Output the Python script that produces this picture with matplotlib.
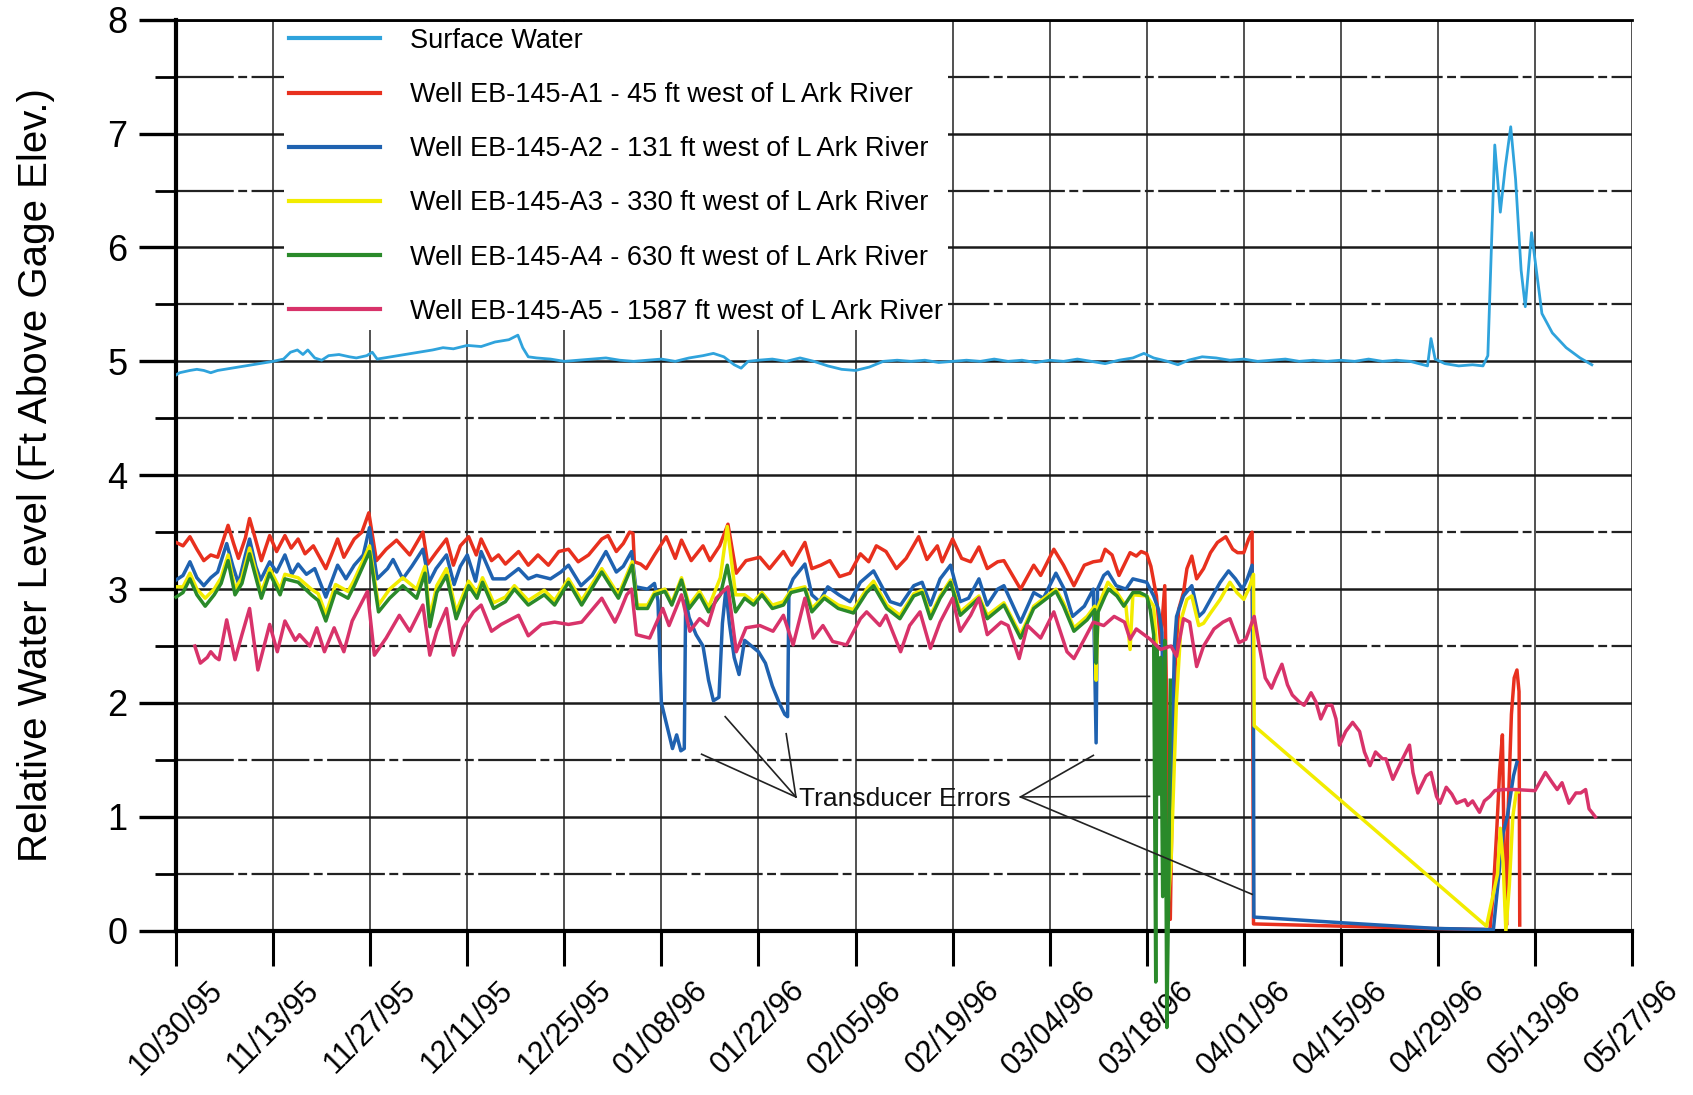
import numpy as np
import pandas as pd
import matplotlib
matplotlib.use("Agg")
import matplotlib.pyplot as plt
import matplotlib.dates as mdates
from matplotlib.ticker import MultipleLocator

plt.rcParams['font.family'] = ['Liberation Sans', 'DejaVu Sans']

START = "1995-10-30"
END = "1996-05-27"

# ---- data: (days after 10/30/95, value) ----
sw_days = [0, 0.5, 2, 3, 4, 5, 6, 8, 10, 12, 14, 15.5, 16.5, 17.5, 18.3, 19, 20, 21, 22, 23.5, 25, 26,
           27.5, 28.3, 29, 31, 33, 35, 37, 38.5, 40, 42, 44, 46, 48, 49.3, 50, 50.8, 52, 54, 56, 58, 60,
           62, 64, 66, 68, 70, 72, 74, 76, 77.5, 79, 80.5, 81.5, 82.5, 84, 86, 88, 90, 92, 94, 96, 98,
           100, 102, 104, 106, 108, 110, 112, 114, 116, 118, 120, 122, 124, 126, 128, 130, 132, 134,
           136, 138, 139.6, 141, 143, 144.5, 146, 148, 150, 152, 154, 156, 158, 160, 162, 164, 166,
           168, 170, 172, 174, 176, 178, 180.5, 181, 181.6, 183, 185, 187, 188.5, 189.2, 190.2, 190.6,
           191, 191.7, 192.5, 193.2, 194, 194.6, 195.5, 196.2, 197, 198.5, 200.5, 202.5, 204.2]
sw_vals = [4.88, 4.90, 4.92, 4.93, 4.92, 4.90, 4.92, 4.94, 4.96, 4.98, 5.00, 5.02, 5.08, 5.10, 5.06,
           5.10, 5.03, 5.01, 5.05, 5.06, 5.04, 5.03, 5.05, 5.08, 5.02, 5.04, 5.06, 5.08, 5.10, 5.12,
           5.11, 5.14, 5.13, 5.17, 5.19, 5.23, 5.12, 5.04, 5.03, 5.02, 5.00, 5.01, 5.02, 5.03, 5.01,
           5.00, 5.01, 5.02, 5.00, 5.03, 5.05, 5.07, 5.04, 4.97, 4.94, 5.00, 5.01, 5.02, 5.00, 5.03,
           5.00, 4.96, 4.93, 4.92, 4.95, 5.00, 5.01, 5.00, 5.01, 4.99, 5.00, 5.01, 5.00, 5.02, 5.00,
           5.01, 4.99, 5.01, 5.00, 5.02, 5.00, 4.98, 5.01, 5.03, 5.07, 5.03, 5.00, 4.97, 5.01, 5.04,
           5.03, 5.01, 5.02, 5.00, 5.01, 5.02, 5.00, 5.01, 5.00, 5.01, 5.00, 5.02, 5.00, 5.01, 5.00,
           4.96, 5.20, 5.02, 4.98, 4.96, 4.97, 4.96, 5.05, 6.90, 6.60, 6.31, 6.70, 7.06, 6.60, 5.80,
           5.48, 6.13, 5.80, 5.42, 5.25, 5.12, 5.03, 4.97]

a1_days = [0, 1, 2, 3, 4, 5, 6, 7.5, 8.3, 9, 10, 10.6, 11.4, 12.3, 13.5, 14.5, 15.7, 16.6, 17.6, 18.6,
           19.8, 21.6, 22.4, 23.3, 24.2, 25.7, 26.8, 27.8, 28.9, 30.3, 31.8, 33.7, 35.6, 36.3, 37.5, 39,
           40, 41, 42.2, 43.3, 44, 45.5, 46.5, 47.5, 49.4, 50.8, 52.2, 53.7, 55.2, 56.6, 58, 59.5, 61.4,
           62.3, 63.5, 64.5, 65.4, 65.9, 66.1, 67, 67.8, 69, 70.7, 72, 72.9, 74.3, 76, 77, 78.4, 79.6,
           80.8, 82.2, 84.2, 85.6, 87.6, 88.8, 90.7, 91.7, 93, 94.3, 95.7, 97.2, 98.7, 99.9, 101, 102.4,
           103.9, 105.3, 107.1, 108.3, 109.8, 110.5, 112, 113.3, 114.6, 115.8, 117, 118.5, 119.4, 121.8,
           123.7, 124.7, 126.6, 128, 129.5, 131, 132.3, 133.4, 134, 135, 136, 137.6, 138.5, 139.2, 140,
           140.6, 141.4, 142.0, 142.6, 143.0, 143.4, 143.7, 144.1, 144.6, 145.3, 145.8, 146.5, 147.2,
           148.2, 149.2, 150.2, 151.4, 152.4, 153.1, 154, 154.7, 155.2, 155.4, 168, 181, 189.5, 190.0,
           190.5, 190.9, 191.3, 191.5, 191.7, 191.9, 192.1, 192.6, 193.0, 193.4, 193.7, 193.8]
a1_vals = [3.41, 3.38, 3.46, 3.35, 3.25, 3.30, 3.28, 3.56, 3.40, 3.27, 3.45, 3.62, 3.45, 3.25, 3.47,
           3.33, 3.47, 3.36, 3.44, 3.31, 3.38, 3.18, 3.30, 3.44, 3.28, 3.44, 3.50, 3.67, 3.25, 3.35,
           3.43, 3.30, 3.50, 3.22, 3.32, 3.44, 3.21, 3.38, 3.46, 3.30, 3.44, 3.25, 3.30, 3.22, 3.33,
           3.21, 3.30, 3.21, 3.33, 3.35, 3.24, 3.30, 3.44, 3.47, 3.33, 3.40, 3.50, 3.49, 3.24, 3.22,
           3.18, 3.30, 3.46, 3.27, 3.43, 3.25, 3.38, 3.25, 3.38, 3.57, 3.14, 3.25, 3.28, 3.18, 3.33,
           3.21, 3.41, 3.18, 3.21, 3.25, 3.11, 3.14, 3.31, 3.24, 3.38, 3.33, 3.18, 3.27, 3.46, 3.26,
           3.38, 3.24, 3.44, 3.27, 3.24, 3.37, 3.18, 3.24, 3.25, 3.00, 3.21, 3.12, 3.35, 3.21, 3.03,
           3.21, 3.24, 3.25, 3.35, 3.30, 3.12, 3.32, 3.29, 3.33, 3.31, 3.20, 2.94, 2.53, 3.03, 1.50,
           0.10, 1.30, 2.32, 2.82, 2.97, 3.18, 3.29, 3.09, 3.18, 3.32, 3.41, 3.46, 3.35, 3.32, 3.32,
           3.44, 3.50, 0.06, 0.04, 0.02, 0.01, 0.35, 0.90, 1.40, 1.72, 0.90, 0.30, 0.05, 1.00, 1.90,
           2.22, 2.29, 2.10, 0.05]

a2_days = [0, 1, 2, 3, 4, 5, 6, 7.3, 8.2, 9, 10, 10.6, 11.5, 12.2, 13.5, 14.5, 15.7, 16.7, 17.6, 18.8,
           20, 21.6, 23.3, 24.5, 25.7, 27.0, 27.9, 29, 30.5, 31.3, 32.7, 34, 35.6, 36.5, 37.5, 39, 40.1,
           41, 42, 43.2, 44, 45.7, 47.5, 49.4, 50.8, 52, 54, 55.5, 56.6, 58.4, 60, 62, 63.5, 64.5, 65.7,
           66.3, 68, 69, 69.5, 70, 70.8, 71.6, 72.2, 72.8, 73.3, 73.5, 74, 75, 76, 76.8, 77.5, 78.3,
           78.8, 79.3, 79.8, 80.5, 81.2, 82, 83, 84, 85, 86, 87, 87.8, 88.2, 88.4, 89, 90.7, 91.7, 92.8,
           94, 95.6, 97.2, 98.7, 100.6, 102, 103, 104.5, 106.4, 107.6, 108.8, 110.2, 111.7, 113.1,
           114.3, 115.8, 117, 118.5, 119.4, 121.8, 123.7, 125.1, 126.9, 128.1, 129.3, 131, 132.3,
           132.7, 132.9, 133.8, 134.4, 135.6, 137, 138, 140, 141, 141.7, 142.2, 142.6, 143.0, 143.5,
           144.0, 144.3, 145.3, 146.5, 147.5, 148.2, 149.2, 150.6, 151.8, 152.8, 153.8, 154.5, 155.2,
           155.4, 155.45, 168.2, 181.8, 190, 190.7, 191.4, 192.0, 192.9, 193.4]
a2_vals = [3.08, 3.12, 3.24, 3.10, 3.03, 3.10, 3.15, 3.40, 3.20, 3.05, 3.30, 3.44, 3.20, 3.08, 3.24,
           3.15, 3.30, 3.13, 3.22, 3.13, 3.18, 2.93, 3.21, 3.09, 3.21, 3.30, 3.54, 3.09, 3.18, 3.26,
           3.09, 3.20, 3.35, 3.06, 3.18, 3.30, 3.04, 3.20, 3.30, 3.07, 3.33, 3.09, 3.09, 3.18, 3.09,
           3.12, 3.09, 3.15, 3.21, 3.03, 3.12, 3.33, 3.15, 3.20, 3.33, 3.02, 3.00, 3.05, 2.90, 2.00,
           1.80, 1.60, 1.72, 1.58, 1.60, 2.90, 2.75, 2.60, 2.50, 2.20, 2.02, 2.05, 2.70, 3.00, 2.70,
           2.40, 2.25, 2.55, 2.50, 2.45, 2.35, 2.15, 2.00, 1.90, 1.88, 3.00, 3.09, 3.22, 2.95, 2.89,
           3.02, 2.95, 2.89, 3.06, 3.16, 3.00, 2.89, 2.86, 3.03, 3.06, 2.86, 3.09, 3.21, 2.89, 2.92,
           3.09, 2.86, 3.00, 3.03, 2.71, 2.97, 2.92, 3.14, 3.00, 2.76, 2.85, 3.00, 1.65, 3.00, 3.12,
           3.15, 3.03, 3.00, 3.09, 3.06, 2.94, 2.82, 2.62, 1.00, 0.15, 1.20, 2.50, 2.76, 2.94, 3.03,
           2.76, 2.80, 2.91, 3.06, 3.16, 3.09, 3.00, 3.09, 3.21, 1.80, 0.12, 0.07, 0.02, 0.01, 0.44,
           0.86, 1.00, 1.36, 1.48]

a3_days = [0, 1, 2, 3, 4.2, 5.5, 6.5, 7.5, 8.5, 9.5, 10.6, 12.3, 13.5, 15, 15.7, 17.6, 19.5, 20.5, 21.6,
           23, 24.8, 25.7, 27.9, 29.2, 30.8, 32.7, 34.7, 35.9, 36.6, 37.6, 39, 40.4, 42.2, 43.4, 44.2,
           45.8, 47.5, 48.8, 50.8, 53.1, 54.6, 56.6, 58.5, 61.4, 63.8, 65.8, 66.5, 68, 69, 70.5, 71.5,
           72.9, 74, 75.5, 76.8, 78.5, 79.5, 80.2, 80.7, 82, 83.3, 84.5, 86, 87.6, 88.7, 90.7, 91.7,
           93.5, 95.5, 97.7, 99.6, 100.6, 102.5, 104.4, 106.4, 107.6, 108.8, 110.2, 111.7, 113.1,
           115.8, 117, 119.4, 121.8, 123.7, 126.9, 128, 129.5, 131.4, 132.5, 132.7, 133.0, 134.4,
           135.7, 137, 137.6, 138, 140, 141, 141.4, 142.0, 142.6, 143.1, 143.5, 144.3, 145, 145.8,
           146.5, 147.5, 148.2, 149.2, 150.6, 152, 153, 154, 154.7, 155.4, 155.5, 189.0, 190.6, 191.0,
           191.4, 191.8, 192.3, 192.8, 193.3, 193.6]
a3_vals = [3.02, 3.02, 3.14, 3.00, 2.92, 3.00, 3.10, 3.30, 3.00, 3.10, 3.36, 2.97, 3.18, 3.00, 3.13,
           3.10, 3.00, 2.96, 2.78, 3.04, 2.98, 3.08, 3.38, 2.86, 3.00, 3.10, 3.00, 3.20, 2.75, 3.03,
           3.18, 2.80, 3.07, 2.97, 3.10, 2.88, 2.93, 3.03, 2.90, 2.99, 2.90, 3.09, 2.90, 3.18, 2.95,
           3.24, 2.86, 2.86, 2.97, 3.00, 2.88, 3.10, 2.86, 2.98, 2.84, 3.10, 3.55, 3.20, 2.95, 2.95,
           2.89, 2.97, 2.86, 2.89, 2.99, 3.02, 2.83, 2.94, 2.86, 2.82, 3.00, 3.07, 2.86, 2.77, 2.96,
           2.99, 2.77, 2.94, 3.08, 2.80, 2.94, 2.77, 2.88, 2.60, 2.85, 3.00, 2.88, 2.66, 2.76, 2.85,
           2.20, 2.85, 3.06, 2.97, 2.85, 2.47, 2.95, 2.94, 2.85, 2.50, 1.50, 0.80, 0.24, 0.60, 2.03,
           2.74, 2.91, 2.94, 2.68, 2.70, 2.79, 2.91, 3.06, 2.97, 2.91, 3.00, 3.13, 1.80, 0.04, 0.50,
           0.90, 0.60, 0.00, 0.40, 1.00, 1.22, 1.22]

a4_days = [0, 1, 2, 3, 4.2, 5.5, 6.5, 7.5, 8.5, 9.5, 10.6, 12.3, 13.5, 15, 15.7, 17.6, 19.5, 20.5, 21.6,
           23, 24.8, 25.7, 27.9, 29.2, 30.8, 32.7, 34.7, 35.9, 36.6, 37.6, 39, 40.4, 42.2, 43.4, 44.2,
           45.8, 47.5, 48.8, 50.8, 53.1, 54.6, 56.6, 58.5, 61.4, 63.8, 65.8, 66.5, 68, 69, 70.5, 71.5,
           72.9, 74, 75.5, 76.8, 78.5, 79.5, 80.7, 82, 83.3, 84.5, 86, 87.6, 88.7, 90.7, 91.7, 93.5,
           95.5, 97.7, 99.6, 100.6, 102.5, 104.4, 106.4, 107.6, 108.8, 110.2, 111.7, 113.1, 115.8,
           117, 119.4, 121.8, 123.7, 126.9, 128, 129.5, 131.4, 132.5, 132.7, 133.0, 134, 134.5, 135.7,
           136.7, 138, 139, 140, 140.5, 141.0, 141.3, 141.5, 141.8, 142.0, 142.3, 142.6, 142.9, 143.2,
           143.4]
a4_vals = [2.93, 2.97, 3.09, 2.95, 2.85, 2.95, 3.05, 3.25, 2.95, 3.05, 3.31, 2.92, 3.14, 2.95, 3.09,
           3.06, 2.95, 2.90, 2.72, 2.98, 2.92, 3.03, 3.33, 2.80, 2.92, 3.03, 2.92, 3.14, 2.67, 2.97,
           3.12, 2.74, 3.03, 2.92, 3.06, 2.83, 2.89, 3.00, 2.86, 2.95, 2.86, 3.06, 2.86, 3.15, 2.92,
           3.21, 2.83, 2.83, 2.95, 2.98, 2.86, 3.08, 2.83, 2.95, 2.80, 2.95, 3.21, 2.80, 2.92, 2.86,
           2.95, 2.83, 2.86, 2.97, 3.00, 2.80, 2.92, 2.83, 2.79, 2.97, 3.03, 2.83, 2.74, 2.94, 2.97,
           2.74, 2.92, 3.06, 2.77, 2.92, 2.74, 2.86, 2.57, 2.83, 2.98, 2.85, 2.63, 2.73, 2.82, 2.35,
           2.80, 2.94, 3.00, 2.94, 2.85, 2.97, 2.97, 2.94, 2.82, 2.60, -0.45, 2.50, 1.20, 2.40, 0.30,
           2.55, -0.85, 0.50, 2.20]

a5_days = [2.7, 3.5, 4.5, 5, 5.7, 6.2, 7.3, 8.5, 9.5, 10.6, 11.8, 13.5, 14.6, 15.7, 17.2, 17.8, 19.3,
           20.3, 21.4, 22.8, 24.2, 25.4, 27.6, 28.6, 30.3, 32.2, 33.7, 35.6, 36.6, 37.6, 39, 40, 41.4,
           42.9, 44, 45.5, 46.9, 49.4, 50.8, 52.7, 54.6, 56.6, 58.5, 61.4, 63.3, 64, 65, 65.7, 66.4,
           68.3, 70.2, 71.1, 72.9, 74.1, 75.5, 76.7, 77.9, 79.6, 80.8, 82.2, 84.2, 86.1, 87.6, 89.0,
           90.7, 91.9, 93.3, 94.7, 96.7, 98.7, 99.6, 101.5, 102.4, 104.5, 105.8, 107.3, 108.8, 110.2,
           112, 113.1, 114.6, 115.8, 117, 119, 120, 121.6, 122.8, 124.7, 126.6, 128.5, 129.5, 131,
           132.3, 133.8, 135.3, 136.8, 137.6, 138.5, 140.5, 142, 143.5, 144.3, 145.3, 146.2, 147.2,
           148.2, 149.7, 151, 152, 153.3, 154.3, 155.5, 156.2, 157.1, 158, 158.6, 159.5, 160.3, 161,
           162, 162.7, 163.7, 164.4, 165.1, 166, 166.7, 167.3, 167.8, 168.7, 169.7, 170.7, 171.4,
           172.2, 173, 174, 174.5, 175.5, 176.9, 177.9, 178.4, 179.1, 180.3, 181, 181.8, 182.3, 183.2,
           184, 184.7, 185.9, 186.3, 187, 188, 188.7, 189.5, 190.2, 191.4, 193.1, 196, 197.5, 198.5,
           199.2, 199.9, 200.9, 201.9, 202.6, 203.3, 203.8, 204.2, 204.7]
a5_vals = [2.50, 2.35, 2.40, 2.45, 2.40, 2.38, 2.73, 2.38, 2.60, 2.83, 2.29, 2.69, 2.45, 2.72, 2.55,
           2.60, 2.50, 2.66, 2.45, 2.66, 2.45, 2.72, 2.98, 2.42, 2.57, 2.77, 2.63, 2.86, 2.42, 2.63,
           2.83, 2.42, 2.66, 2.80, 2.86, 2.63, 2.69, 2.77, 2.59, 2.69, 2.71, 2.69, 2.71, 2.92, 2.71,
           2.80, 2.95, 3.00, 2.60, 2.57, 2.83, 2.68, 2.95, 2.63, 2.74, 2.68, 2.92, 3.02, 2.45, 2.66,
           2.68, 2.63, 2.77, 2.51, 2.92, 2.57, 2.68, 2.54, 2.51, 2.74, 2.80, 2.68, 2.77, 2.45, 2.68,
           2.80, 2.48, 2.71, 2.92, 2.63, 2.77, 2.92, 2.60, 2.71, 2.68, 2.39, 2.68, 2.57, 2.80, 2.45,
           2.39, 2.56, 2.71, 2.68, 2.76, 2.71, 2.56, 2.65, 2.56, 2.47, 2.50, 2.41, 2.74, 2.71, 2.32,
           2.50, 2.65, 2.71, 2.74, 2.53, 2.56, 2.76, 2.51, 2.22, 2.13, 2.22, 2.34, 2.16, 2.07, 2.01,
           1.98, 2.09, 2.01, 1.86, 1.98, 1.98, 1.86, 1.63, 1.75, 1.83, 1.75, 1.57, 1.45, 1.57, 1.51,
           1.51, 1.33, 1.51, 1.63, 1.39, 1.21, 1.36, 1.39, 1.18, 1.12, 1.26, 1.20, 1.12, 1.15, 1.10,
           1.14, 1.04, 1.14, 1.18, 1.23, 1.24, 1.24, 1.23, 1.39, 1.30, 1.24, 1.30, 1.12, 1.21, 1.21,
           1.24, 1.07, 1.04, 1.00]

series_labels = ["Surface Water",
                 "Well EB-145-A1 - 45 ft west of L Ark River",
                 "Well EB-145-A2 - 131 ft west of L Ark River",
                 "Well EB-145-A3 - 330 ft west of L Ark River",
                 "Well EB-145-A4 - 630 ft west of L Ark River",
                 "Well EB-145-A5 - 1587 ft west of L Ark River"]
series_colors = ["#2fa3dc", "#e8301e", "#1f62b0", "#f2ec00", "#2a8a2a", "#d8336a"]

# annotation: "Transducer Errors" and the points it marks (day, value)
err_text_pos = (89.8, 1.16)
err_left_anchor = (89.4, 1.175)
err_right_anchor = (121.8, 1.175)
err_left_pts = [(75.8, 1.55), (79.2, 1.88), (88.0, 1.73)]
err_right_pts = [(132.3, 1.54), (140.4, 1.18), (155.2, 0.32)]

base = pd.Timestamp(START)


def to_dates(days):
    return base + pd.to_timedelta(np.asarray(days, dtype=float), unit="D")


fig = plt.figure(figsize=(16.93, 10.95), dpi=100)
ax = fig.add_axes([0.104, 0.150, 0.860, 0.832])

all_days = [sw_days, a1_days, a2_days, a3_days, a4_days, a5_days]
all_vals = [sw_vals, a1_vals, a2_vals, a3_vals, a4_vals, a5_vals]
for i, (d, v) in enumerate(zip(all_days, all_vals)):
    ln, = ax.plot(to_dates(d), v, color=series_colors[i], lw=2.5 if i else 2.0,
                  label=series_labels[i], zorder=3 + i, solid_joinstyle="round")
    if i == 4:
        ln.set_clip_on(False)

# annotation lines and text
for p in err_left_pts:
    ax.plot(to_dates([err_left_anchor[0], p[0]]), [err_left_anchor[1], p[1]], color="#222222",
            lw=1.2, zorder=10)
for p in err_right_pts:
    ax.plot(to_dates([err_right_anchor[0], p[0]]), [err_right_anchor[1], p[1]], color="#222222",
            lw=1.2, zorder=10)
ax.text(to_dates([err_text_pos[0]])[0], err_text_pos[1], "Transducer Errors", fontsize=19,
        ha="left", va="center", color="#111111", zorder=11)

# axes
ax.set_xlim(pd.Timestamp(START), pd.Timestamp(END))
ax.set_ylim(0, 8)
xt = pd.date_range(START, END, freq="14D")
ax.set_xticks(xt)
ax.xaxis.set_major_formatter(mdates.DateFormatter("%m/%d/%y"))
ax.yaxis.set_major_locator(MultipleLocator(1))
ax.yaxis.set_minor_locator(MultipleLocator(0.5))

ax.tick_params(axis="y", which="major", direction="out", length=27, width=2.4, labelsize=26, pad=8)
ax.tick_params(axis="y", which="minor", direction="out", length=15, width=2.0)
ax.tick_params(axis="x", which="major", direction="out", length=25, width=2.2, labelsize=22, pad=7)
for lab in ax.get_xticklabels():
    lab.set_rotation(45)
    lab.set_ha("center")
    lab.set_va("top")

ax.grid(True, axis="y", which="major", color="#1a1a1a", lw=1.8, zorder=1)
ax.grid(True, axis="y", which="minor", color="#222222", lw=1.6, ls=(0, (26, 2, 4, 2)), zorder=1)
ax.grid(True, axis="x", which="major", color="#333333", lw=1.2, zorder=1)

ax.spines["right"].set_visible(False)
ax.spines["left"].set_linewidth(3)
ax.spines["bottom"].set_linewidth(3)
ax.spines["top"].set_linewidth(2)

ax.set_ylabel("Relative Water Level (Ft Above Gage Elev.)", fontsize=29)
ax.yaxis.set_label_coords(-0.083, 0.5)

leg = ax.legend(loc="upper left", bbox_to_anchor=(0.074, 0.997), borderaxespad=0, borderpad=0.2,
                fontsize=19.5, handlelength=3.35, handletextpad=1.1, labelspacing=1.04,
                frameon=True, fancybox=False, framealpha=1.0, facecolor="white", edgecolor="none")
leg.set_zorder(2.5)
for h in leg.get_lines():
    h.set_linewidth(3)

fig.savefig("out.png", dpi=100, facecolor="white")
